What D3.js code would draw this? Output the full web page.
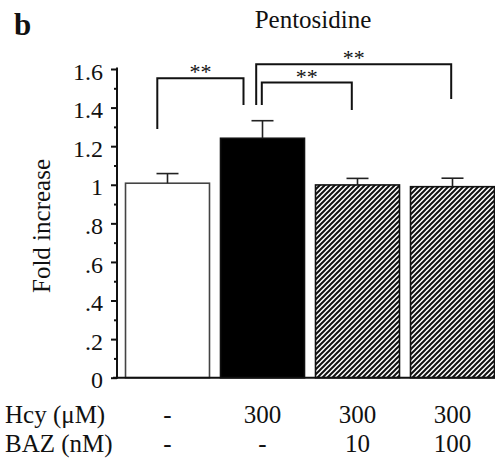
<!DOCTYPE html>
<html>
<head>
<meta charset="utf-8">
<script src="https://cdn.jsdelivr.net/npm/d3@7"></script>
</head>
<body style="margin:0;padding:0;background:#fff">
<svg id="chart" width="495" height="461" style="display:block"></svg>
<script>
// ---- data ----
const categories = ["Control", "Hcy 300", "Hcy 300 + BAZ 10", "Hcy 300 + BAZ 100"];
const values = [1.008, 1.241, 0.999, 0.990];
const errors = [0.050, 0.091, 0.034, 0.044];
const fills = ["white", "black", "hatch", "hatch"];
const hcyLabels = ["-", "300", "300", "300"];
const bazLabels = ["-", "-", "10", "100"];
const majorTicks = [0, 0.2, 0.4, 0.6, 0.8, 1, 1.2, 1.4, 1.6];
const majorTickLabels = ["0", ".2", ".4", ".6", ".8", "1", "1.2", "1.4", "1.6"];
const minorTicks = [0.1, 0.3, 0.5, 0.7, 0.9, 1.1, 1.3, 1.5];
// significance brackets: [from bar, to bar], top value, left leg end, right leg end, label
const bracketPairs = [[0, 1], [1, 2], [1, 3]];
const bracketTops = [1.552, 1.530, 1.624];
const bracketLeftEnds = [1.289, 1.414, 1.414];
const bracketRightEnds = [1.414, 1.388, 1.445];
const bracketLabels = ["**", "**", "**"];

// ---- layout ----
const FONT = '"Liberation Serif"';
const svg = d3.select("#chart");
const y = d3.scaleLinear().domain([0, 1.6]).range([377.7, 69]);
const x = d3.scaleBand().domain(categories).range([120, 500]).paddingInner(0.116).paddingOuter(0.058);
const axisX = 117;

// hatch pattern
const defs = svg.append("defs");
const pat = defs.append("pattern").attr("id", "hatch")
  .attr("patternUnits", "userSpaceOnUse").attr("width", 5).attr("height", 5);
pat.append("rect").attr("width", 5).attr("height", 5).attr("fill", "#fff");
pat.append("path").attr("d", "M-1,1 L1,-1 M0,5 L5,0 M4,6 L6,4")
  .attr("stroke", "#111").attr("stroke-width", 2);

// bars
svg.selectAll("rect.bar").data(categories).join("rect")
  .attr("class", "bar")
  .attr("x", d => x(d))
  .attr("y", (d, i) => y(values[i]))
  .attr("width", x.bandwidth())
  .attr("height", (d, i) => y(0) - y(values[i]))
  .attr("fill", (d, i) => fills[i] === "hatch" ? "url(#hatch)" : fills[i])
  .attr("stroke", (d, i) => i === 0 ? "#444" : "#111")
  .attr("stroke-width", 1.6);

// error bars
const capW = 22;
categories.forEach((c, i) => {
  const cx = x(c) + x.bandwidth() / 2;
  const g = svg.append("g").attr("stroke", "#222").attr("stroke-width", 1.6);
  g.append("line").attr("x1", cx).attr("x2", cx).attr("y1", y(values[i])).attr("y2", y(values[i] + errors[i]));
  g.append("line").attr("x1", cx - capW / 2).attr("x2", cx + capW / 2)
    .attr("y1", y(values[i] + errors[i])).attr("y2", y(values[i] + errors[i]));
});

// y axis (major)
const yAxis = d3.axisLeft(y).tickValues(majorTicks)
  .tickFormat((d, i) => majorTickLabels[i]).tickSize(6).tickPadding(8);
const ga = svg.append("g").attr("transform", `translate(${axisX},0)`).call(yAxis);
ga.select(".domain").remove();
ga.selectAll(".tick line").attr("stroke", "#111").attr("stroke-width", 2);
ga.selectAll(".tick text").style("font-size", "24px").attr("fill", "#111").attr("dy", "0.42em");
// y axis minor
const gm = svg.append("g").attr("transform", `translate(${axisX},0)`)
  .call(d3.axisLeft(y).tickValues(minorTicks).tickFormat("").tickSize(3));
gm.select(".domain").remove();
gm.selectAll(".tick line").attr("stroke", "#111").attr("stroke-width", 2);
// axis lines
svg.append("line").attr("x1", axisX).attr("x2", axisX).attr("y1", y(1.6) - 1.5).attr("y2", y(0) + 1)
  .attr("stroke", "#111").attr("stroke-width", 2);
svg.append("line").attr("x1", 113).attr("x2", 495).attr("y1", y(0)).attr("y2", y(0))
  .attr("stroke", "#111").attr("stroke-width", 2);

// y label
svg.append("text").attr("transform", `translate(50,226) rotate(-90)`)
  .attr("text-anchor", "middle").style("font-size", "25px").text("Fold increase");

// title and panel letter
svg.append("text").attr("x", 313).attr("y", 28).attr("text-anchor", "middle")
  .style("font-size", "25px").text("Pentosidine");
svg.append("text").attr("x", 14).attr("y", 35).style("font-size", "31px")
  .style("font-weight", "bold").text("b");

// brackets
const legOffsets = [[-10.2, -19], [-0.7, -5.7], [-6.3, -1.3]];
bracketPairs.forEach((p, i) => {
  const x1 = x(categories[p[0]]) + x.bandwidth() / 2 + legOffsets[i][0];
  const x2 = x(categories[p[1]]) + x.bandwidth() / 2 + legOffsets[i][1];
  svg.append("path")
    .attr("d", `M${x1},${y(bracketLeftEnds[i])} V${y(bracketTops[i])} H${x2} V${y(bracketRightEnds[i])}`)
    .attr("fill", "none").attr("stroke", "#111").attr("stroke-width", 2);
  svg.append("text").attr("x", (x1 + x2) / 2).attr("y", y(bracketTops[i]) + 1)
    .attr("text-anchor", "middle").style("font-size", "22px")
    .text(bracketLabels[i]);
});

// bottom condition labels
svg.append("text").attr("x", 5).attr("y", 423).style("font-size", "25px").text("Hcy (μM)");
svg.append("text").attr("x", 5).attr("y", 452).style("font-size", "25px").text("BAZ (nM)");
categories.forEach((c, i) => {
  const cx = x(c) + x.bandwidth() / 2;
  svg.append("text").attr("x", cx).attr("y", 423).attr("text-anchor", "middle")
    .style("font-size", "25px").text(hcyLabels[i]);
  svg.append("text").attr("x", cx).attr("y", 452).attr("text-anchor", "middle")
    .style("font-size", "25px").text(bazLabels[i]);
});

// apply serif font everywhere
svg.selectAll("g").attr("font-family", null);
svg.selectAll("text").style("font-family", FONT).attr("fill", "#111");
</script>
</body>
</html>
